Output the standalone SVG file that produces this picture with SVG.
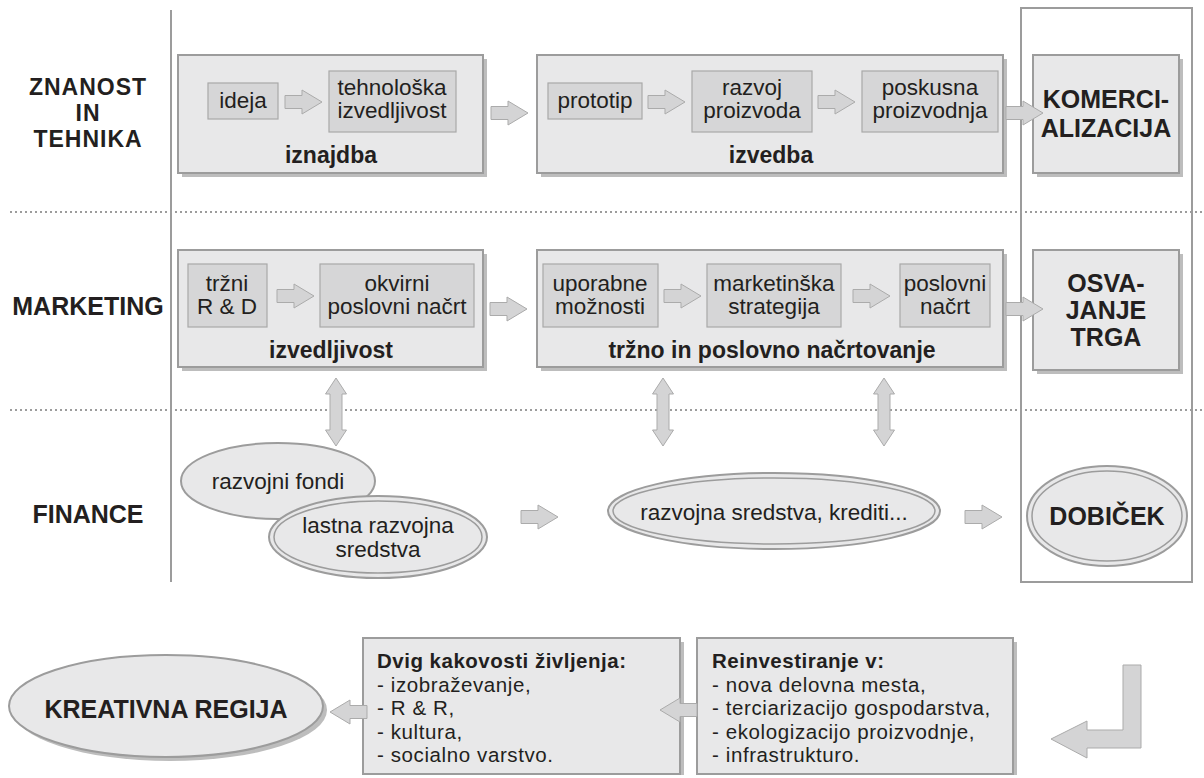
<svg xmlns="http://www.w3.org/2000/svg" xmlns:xlink="http://www.w3.org/1999/xlink" width="1204" height="778" viewBox="0 0 1204 778">
<style>
text{font-family:"Liberation Sans",Arial,sans-serif;fill:#231f20}
.t{font-size:22.5px;text-anchor:middle}
.b{font-size:23px;font-weight:bold;text-anchor:middle}
.h{font-size:25px;font-weight:bold;text-anchor:middle}
.hs{font-size:23px;font-weight:bold;text-anchor:middle;letter-spacing:1px}
.l{font-size:20.5px;letter-spacing:0.6px}
.lb{font-size:20.5px;font-weight:bold;letter-spacing:0.5px}
.big{fill:#e8e8e9;stroke:#9c9c9c;stroke-width:2}
.sh{fill:#bdbdbd}
.in{fill:#d6d6d7;stroke:#a8a8a8;stroke-width:1.2}
.ar{fill:#d4d4d5;stroke:#ababab;stroke-width:1}
.el{fill:#e8e8e9;stroke:#9c9c9c;stroke-width:2}
.el2{fill:none;stroke:#9c9c9c;stroke-width:1.5}
.dot{stroke:#9c9c9c;stroke-width:2;stroke-dasharray:2,3}
</style>
<defs>
<path id="ra" d="M0,-6.5 H17 V-12 L37,0 L17,12 V6.5 H0 Z" class="ar"/>
<path id="da" d="M0,0 L10.5,16 H6 V52 H10.5 L0,68 L-10.5,52 H-6 V16 H-10.5 Z" class="ar"/>
</defs>

<!-- lane separators -->
<g id="lanes">
<line x1="171" y1="10" x2="171" y2="582" stroke="#9c9c9c" stroke-width="2"/>
<line x1="10" y1="212" x2="1204" y2="212" class="dot"/>
<line x1="10" y1="410" x2="1204" y2="410" class="dot"/>
<rect x="1021" y="8" width="171" height="574" fill="none" stroke="#9c9c9c" stroke-width="2"/>
</g>

<g id="lane-labels">
<text class="hs" x="88" y="95">ZNANOST</text>
<text class="hs" x="88" y="121">IN</text>
<text class="hs" x="88" y="147">TEHNIKA</text>
<text class="h" x="88" y="315">MARKETING</text>
<text class="h" x="88" y="523">FINANCE</text>
</g>

<!-- iznajdba -->
<g id="iznajdba">
<rect x="182" y="59" width="305" height="118" class="sh"/>
<rect x="178" y="55" width="305" height="118" class="big"/>
<text class="b" x="331" y="163">iznajdba</text>
</g>
<g id="ideja"><rect x="208" y="83" width="70" height="36" class="in"/><text class="t" x="243" y="108">ideja</text></g>
<g id="tehnoloska"><rect x="329" y="71" width="127" height="61" class="in"/><text class="t" x="392" y="95">tehnološka</text><text class="t" x="392" y="118">izvedljivost</text></g>

<!-- izvedba -->
<g id="izvedba">
<rect x="541" y="59" width="466" height="118" class="sh"/>
<rect x="537" y="55" width="466" height="118" class="big"/>
<text class="b" x="771" y="163">izvedba</text>
</g>
<g id="prototip"><rect x="548" y="83" width="94" height="36" class="in"/><text class="t" x="595" y="108">prototip</text></g>
<g id="razvoj"><rect x="692" y="71" width="120" height="61" class="in"/><text class="t" x="752" y="95">razvoj</text><text class="t" x="752" y="118">proizvoda</text></g>
<g id="poskusna"><rect x="862" y="71" width="136" height="61" class="in"/><text class="t" x="930" y="95">poskusna</text><text class="t" x="930" y="118">proizvodnja</text></g>

<!-- komercializacija -->
<g id="komercializacija">
<rect x="1037" y="59" width="146" height="118" class="sh"/>
<rect x="1033" y="55" width="146" height="118" class="big"/>
<text class="h" x="1106" y="108">KOMERCI-</text>
<text class="h" x="1106" y="137">ALIZACIJA</text>
</g>

<!-- izvedljivost -->
<g id="izvedljivost">
<rect x="182" y="254" width="305" height="117" class="sh"/>
<rect x="178" y="250" width="305" height="117" class="big"/>
<text class="b" x="331" y="358">izvedljivost</text>
</g>
<g id="trzni"><rect x="188" y="264" width="79" height="63" class="in"/><text class="t" x="227" y="291">tržni</text><text class="t" x="227" y="314">R &amp; D</text></g>
<g id="okvirni"><rect x="320" y="264" width="154" height="63" class="in"/><text class="t" x="397" y="291">okvirni</text><text class="t" x="397" y="314">poslovni načrt</text></g>

<!-- trzno in poslovno -->
<g id="trzno">
<rect x="541" y="254" width="466" height="117" class="sh"/>
<rect x="537" y="250" width="466" height="117" class="big"/>
<text class="b" x="772" y="358">tržno in poslovno načrtovanje</text>
</g>
<g id="uporabne"><rect x="543" y="264" width="115" height="63" class="in"/><text class="t" x="600" y="291">uporabne</text><text class="t" x="600" y="314">možnosti</text></g>
<g id="marketinska"><rect x="707" y="264" width="134" height="63" class="in"/><text class="t" x="774" y="291">marketinška</text><text class="t" x="774" y="314">strategija</text></g>
<g id="poslovni"><rect x="900" y="264" width="90" height="63" class="in"/><text class="t" x="945" y="291">poslovni</text><text class="t" x="945" y="314">načrt</text></g>

<!-- osvajanje trga -->
<g id="osvajanje">
<rect x="1037" y="254" width="146" height="120" class="sh"/>
<rect x="1033" y="250" width="146" height="120" class="big"/>
<text class="h" x="1106" y="292">OSVA-</text>
<text class="h" x="1106" y="319">JANJE</text>
<text class="h" x="1106" y="346">TRGA</text>
</g>

<!-- finance -->
<g id="razvojni-fondi">
<ellipse cx="278" cy="481" rx="97" ry="38" class="el"/>
<text class="t" x="278" y="489">razvojni fondi</text>
</g>
<g id="lastna">
<ellipse cx="378" cy="537" rx="109" ry="41" class="el"/>
<ellipse cx="378" cy="537" rx="104" ry="36" class="el2"/>
<text class="t" x="378" y="533">lastna razvojna</text>
<text class="t" x="378" y="557">sredstva</text>
</g>
<g id="razvojna-sredstva">
<ellipse cx="774" cy="511" rx="166" ry="38" class="el"/>
<ellipse cx="774" cy="511" rx="161" ry="33" class="el2"/>
<text class="t" x="774" y="520">razvojna sredstva, krediti...</text>
</g>
<g id="dobicek">
<ellipse cx="1107" cy="516" rx="80" ry="50" class="el"/>
<ellipse cx="1107" cy="516" rx="75" ry="45" class="el2"/>
<text class="h" x="1107" y="525">DOBIČEK</text>
</g>

<!-- bottom -->
<g id="kreativna">
<ellipse cx="170" cy="710" rx="157" ry="51" class="sh"/>
<ellipse cx="166" cy="706" rx="157" ry="51" class="el"/>
<text class="h" x="166" y="718">KREATIVNA REGIJA</text>
</g>
<g id="dvig">
<rect x="367" y="642" width="317" height="133" class="sh"/>
<rect x="363" y="638" width="317" height="136" class="big"/>
<text class="lb" x="377" y="668">Dvig kakovosti življenja:</text>
<text class="l" x="377" y="691.5">- izobraževanje,</text>
<text class="l" x="377" y="715">- R &amp; R,</text>
<text class="l" x="377" y="738.5">- kultura,</text>
<text class="l" x="377" y="762">- socialno varstvo.</text>
</g>
<g id="reinvestiranje">
<rect x="701" y="642" width="316" height="133" class="sh"/>
<rect x="697" y="638" width="316" height="136" class="big"/>
<text class="lb" x="712" y="668">Reinvestiranje v:</text>
<text class="l" x="712" y="691.5">- nova delovna mesta,</text>
<text class="l" x="712" y="715">- terciarizacijo gospodarstva,</text>
<text class="l" x="712" y="738.5">- ekologizacijo proizvodnje,</text>
<text class="l" x="712" y="762">- infrastrukturo.</text>
</g>

<!-- connectors -->
<g id="connectors">
<use xlink:href="#ra" x="285" y="102"/>
<use xlink:href="#ra" x="491" y="113"/>
<use xlink:href="#ra" x="648" y="102"/>
<use xlink:href="#ra" x="818" y="102"/>
<use xlink:href="#ra" x="1006" y="113"/>
<use xlink:href="#ra" x="277" y="296"/>
<use xlink:href="#ra" x="490" y="309"/>
<use xlink:href="#ra" x="664" y="296"/>
<use xlink:href="#ra" x="853" y="296"/>
<use xlink:href="#ra" x="1006" y="309"/>
<use xlink:href="#ra" x="521" y="517"/>
<use xlink:href="#ra" x="965" y="517"/>
<use xlink:href="#da" x="336" y="378"/>
<use xlink:href="#da" x="663" y="378"/>
<use xlink:href="#da" x="884" y="378"/>
<use xlink:href="#ra" transform="translate(367,712) rotate(180)"/>
<use xlink:href="#ra" transform="translate(697,710) rotate(180)"/>
<path d="M1123,665 H1141 V748 H1087 V758 L1051,739 L1087,721 V730 H1123 Z" class="ar"/>
</g>
</svg>
